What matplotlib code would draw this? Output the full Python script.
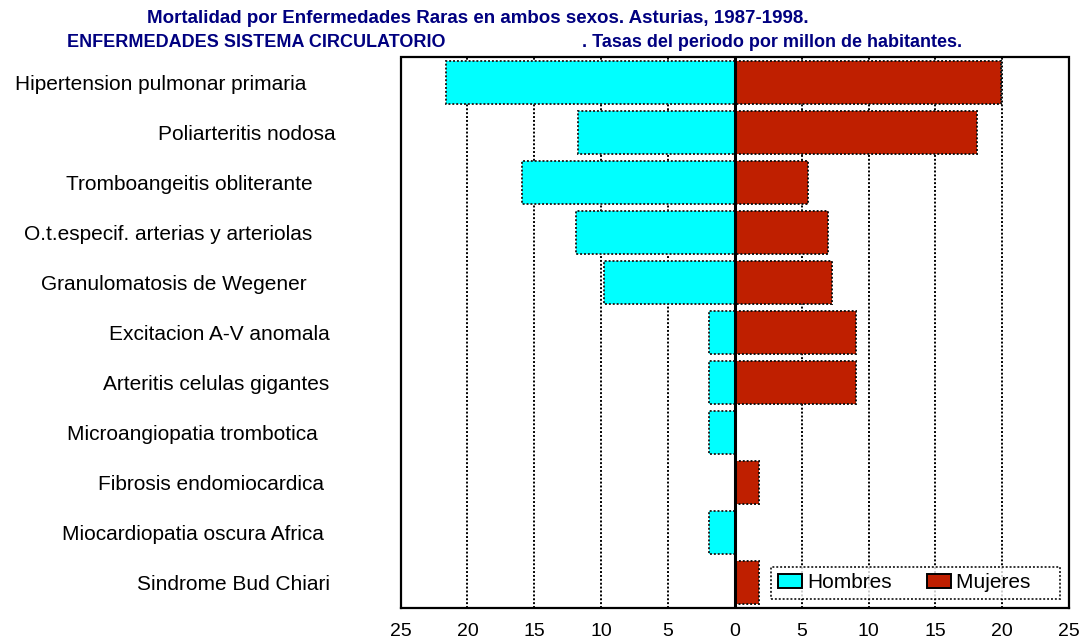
import numpy as np
import matplotlib
matplotlib.use("Agg")
import matplotlib.pyplot as plt

plt.rcParams['font.family'] = ['Liberation Sans', 'DejaVu Sans']

# datos (tasas por millon de habitantes)
enfermedades = [
    "Hipertension pulmonar primaria     ",
    "Poliarteritis nodosa",
    "Tromboangeitis obliterante    ",
    "O.t.especif. arterias y arteriolas    ",
    "Granulomatosis de Wegener     ",
    "Excitacion A-V anomala ",
    "Arteritis celulas gigantes ",
    "Microangiopatia trombotica   ",
    "Fibrosis endomiocardica  ",
    "Miocardiopatia oscura Africa  ",
    "Sindrome Bud Chiari ",
]
hombres = [21.6, 11.7, 15.9, 11.9, 9.8, 1.9, 1.9, 1.9, 0.0, 1.9, 0.0]
mujeres = [19.9, 18.1, 5.5, 7.0, 7.3, 9.1, 9.1, 0.0, 1.8, 0.0, 1.8]
xticks = [-25, -20, -15, -10, -5, 0, 5, 10, 15, 20, 25]

titulo1 = "Mortalidad por Enfermedades Raras en ambos sexos. Asturias, 1987-1998."
titulo2a = "ENFERMEDADES SISTEMA CIRCULATORIO"
titulo2b = ". Tasas del periodo por millon de habitantes."

dot = (0, (1, 1))
navy = "#000080"

fig = plt.figure(figsize=(10.82, 6.41), dpi=100)
ax = fig.add_axes([0.3703, 0.0515, 0.6177, 0.8596])

y = np.arange(len(enfermedades))
# espacios finales -> nbsp para que cuenten en el ancho
labels = [s.rstrip(" ") + "\u00a0" * (len(s) - len(s.rstrip(" "))) for s in enfermedades]

ax.barh(y, -np.array(hombres), height=0.86, color="#00FFFF", edgecolor="#222222",
        linewidth=1.4, linestyle=dot, label="Hombres", zorder=3)
ax.barh(y, mujeres, height=0.86, color="#BF1F00", edgecolor="#111111",
        linewidth=1.4, linestyle=dot, label="Mujeres\u00a0\u00a0\u00a0\u00a0", zorder=3)
ax.axvline(0, color="black", linewidth=2.2, zorder=4)

ax.set_xlim(-25, 25)
ax.set_ylim(10.5, -0.52)
ax.set_yticks(y)
ax.set_yticklabels(labels, fontsize=15)
ax.set_xticks(xticks)
ax.set_xticklabels([str(abs(v)) for v in xticks], fontsize=14)
ax.tick_params(axis="y", length=0, pad=47)
ax.tick_params(axis="x", length=0, pad=11)
ax.grid(axis="x", color="black", linewidth=1.4, linestyle=dot, zorder=0)
ax.set_axisbelow(True)
for sp in ax.spines.values():
    sp.set_linestyle(dot)
    sp.set_linewidth(1.6)

leg = ax.legend(loc="lower right", ncol=2, fontsize=15, frameon=True, fancybox=False,
                borderaxespad=0.45, handlelength=1.15, handleheight=0.7,
                handletextpad=0.25, columnspacing=1.7, borderpad=0.3)
leg.get_frame().set_edgecolor("black")
leg.get_frame().set_linestyle(dot)
leg.get_frame().set_linewidth(1.4)
for h in leg.legend_handles:
    h.set_linestyle("solid")
    h.set_edgecolor("black")

fig.text(478 / 1082, 1 - 23 / 641, titulo1, ha="center", va="baseline",
         fontsize=13.5, fontweight="bold", color=navy)
fig.text(67 / 1082, 1 - 47 / 641, titulo2a, ha="left", va="baseline",
         fontsize=13, fontweight="bold", color=navy)
fig.text(962 / 1082, 1 - 47 / 641, titulo2b, ha="right", va="baseline",
         fontsize=13, fontweight="bold", color=navy)

fig.savefig("out.png", dpi=100)
